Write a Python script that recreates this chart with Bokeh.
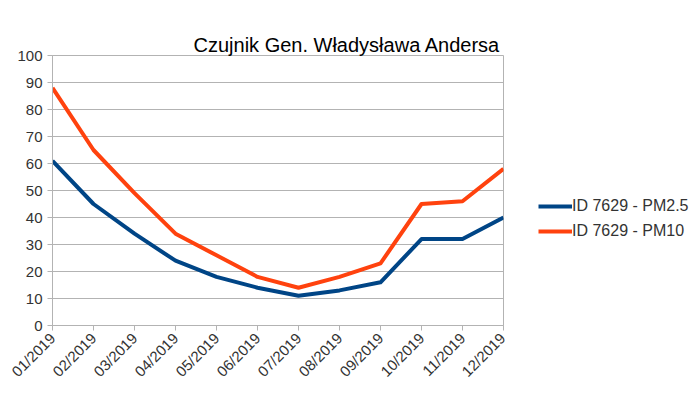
import math
from bokeh.plotting import figure
from bokeh.layouts import row
from bokeh.models import FixedTicker, Legend, LegendItem, Range1d, Title
from bokeh.embed import file_html
from bokeh.resources import INLINE

months = ["01/2019", "02/2019", "03/2019", "04/2019", "05/2019", "06/2019",
          "07/2019", "08/2019", "09/2019", "10/2019", "11/2019", "12/2019"]
pm25 = [61, 45, 34, 24, 18, 14, 11, 13, 16, 32, 32, 40]
pm10 = [88, 65, 49, 34, 26, 18, 14, 18, 23, 45, 46, 58]
series_names = ["ID 7629 - PM2.5", "ID 7629 - PM10"]
y_ticks = list(range(0, 101, 10))

FONT = "Liberation Sans"
GRID = "#b3b3b3"
C25 = "#004586"
C10 = "#ff420e"

xs = list(range(len(months)))

p = figure(width=508, height=396, output_backend="svg", toolbar_location=None,
           x_range=Range1d(0, len(months) - 1), y_range=Range1d(0, 100),
           min_border_left=52, min_border_right=5, min_border_top=55,
           min_border_bottom=71)
p.title = None
t = Title(text="Czujnik Gen. Władysława Andersa", align="left", offset=141,
          text_font=FONT, text_font_size="20px", text_font_style="normal",
          text_color="#000000", standoff=0)
p.add_layout(t, "above")
spacer = Title(text="x", text_alpha=0, text_font=FONT, text_font_size="15px",
               standoff=4)
p.add_layout(spacer, "above")

p.line(xs, pm25, line_color=C25, line_width=4, line_join="round")
p.line(xs, pm10, line_color=C10, line_width=4, line_join="round")

p.xaxis.ticker = FixedTicker(ticks=xs)
p.xaxis.major_label_overrides = {i: m for i, m in enumerate(months)}
p.xaxis.major_label_orientation = math.pi / 4
p.yaxis.ticker = FixedTicker(ticks=y_ticks)

for ax in (p.xaxis[0], p.yaxis[0]):
    ax.axis_line_color = GRID
    ax.major_tick_line_color = GRID
    ax.major_tick_out = 5
    ax.major_tick_in = 0
    ax.minor_tick_line_color = None
    ax.major_label_text_font = FONT
    ax.major_label_text_font_size = "15px"
    ax.major_label_text_color = "#333333"
    ax.major_label_standoff = 5

p.xgrid.grid_line_color = None
p.ygrid.grid_line_color = GRID
p.outline_line_color = GRID
p.background_fill_color = "white"
p.border_fill_color = "white"

# legend panel
p2 = figure(width=192, height=396, output_backend="svg", toolbar_location=None,
            x_range=Range1d(0, 1), y_range=Range1d(0, 1),
            min_border=0, min_border_left=0, min_border_right=0,
            min_border_top=0, min_border_bottom=0)
p2.axis.visible = False
p2.grid.visible = False
p2.outline_line_color = None
p2.border_fill_color = "white"
p2.background_fill_color = "white"
l1 = p2.line([5, 6], [5, 6], line_color=C25, line_width=4)
l2 = p2.line([5, 6], [5, 6], line_color=C10, line_width=4)
legend = Legend(items=[LegendItem(label=series_names[0], renderers=[l1]),
                       LegendItem(label=series_names[1], renderers=[l2])],
                label_text_font=FONT, label_text_font_size="16px",
                label_text_color="#333333", glyph_width=34, glyph_height=20,
                label_standoff=0, spacing=5, border_line_color=None,
                background_fill_alpha=0, padding=0, margin=0,
                location=(30, 84))
p2.add_layout(legend, "center")

layout = row(p, p2, spacing=0)
open("out.html", "w").write(file_html(layout, INLINE))
